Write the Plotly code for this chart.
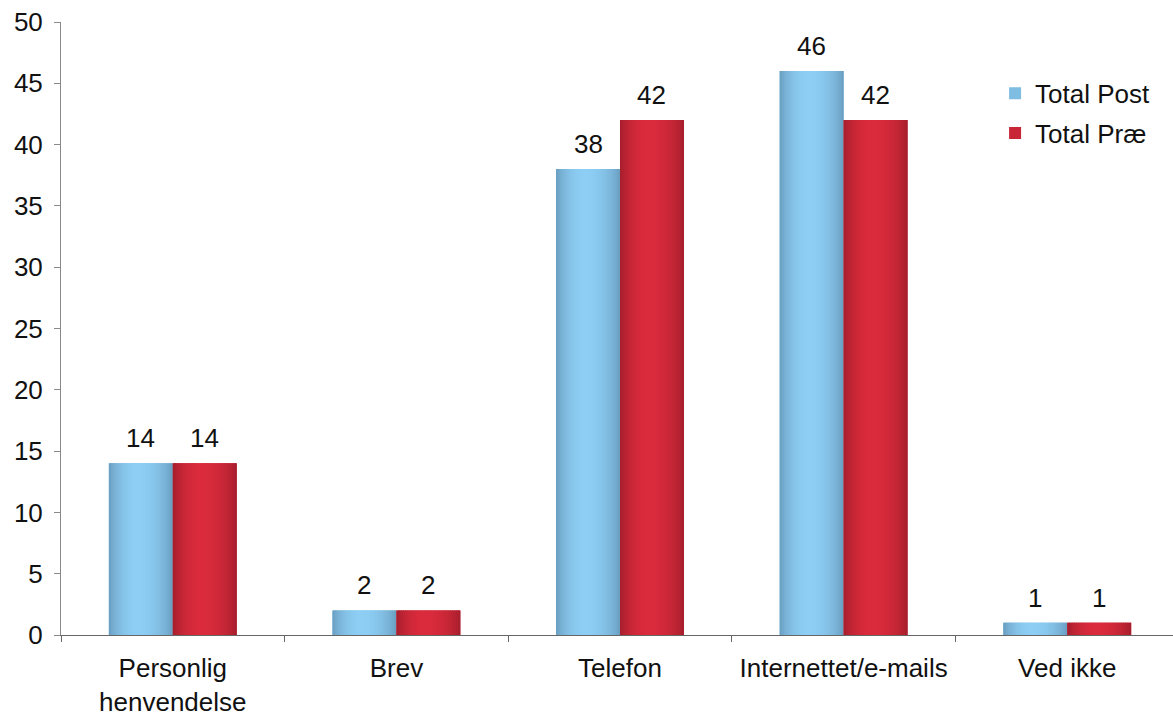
import math
import plotly.graph_objects as go

# Survey results: contact channel, post vs. pre
categories = ["Personlig henvendelse", "Brev", "Telefon", "Internettet/e-mails", "Ved ikke"]
tick_labels = ["Personlig<br>henvendelse", "Brev", "Telefon", "Internettet/e-mails", "Ved ikke"]
total_post = [14, 2, 38, 46, 1]
total_prae = [14, 2, 42, 42, 1]

FONT = "Liberation Sans, Arial, sans-serif"
FONT_SIZE = 26
BAR_W = 0.286          # width of one bar in category units
N_STRIPS = 30          # vertical strips used for the cylinder shading


def mix(c1, c2, f):
    return "rgb({},{},{})".format(*[round(a + (b - a) * f) for a, b in zip(c1, c2)])


def shade(t):
    # brightness profile across the bar: dark edges, light band a bit left of centre
    peak = 0.45
    u = t / peak if t < peak else (1 - t) / (1 - peak)
    return math.sin(u * math.pi / 2) ** 0.7


series = [
    dict(name="Total Post", values=total_post, offset=-BAR_W,
         edge=(102, 154, 188), light=(142, 206, 244), legend=(127, 189, 226)),
    dict(name="Total Præ", values=total_prae, offset=0.0,
         edge=(161, 29, 43), light=(218, 43, 60), legend=(200, 38, 55)),
]

fig = go.Figure()

for s in series:
    # base bar carrying the legend entry
    fig.add_trace(go.Bar(
        x=categories, y=s["values"], name=s["name"],
        offset=s["offset"], width=BAR_W,
        marker=dict(color=mix(s["legend"], s["legend"], 0), line=dict(width=0)),
        legendgroup=s["name"], hoverinfo="skip",
    ))
    # shaded strips on top
    w = BAR_W / N_STRIPS
    for k in range(N_STRIPS):
        t = (k + 0.5) / N_STRIPS
        start = s["offset"] + k * w
        width = min(w * 1.6, s["offset"] + BAR_W - start)
        fig.add_trace(go.Bar(
            x=categories, y=s["values"], offset=start, width=width,
            marker=dict(color=mix(s["edge"], s["light"], shade(t)), line=dict(width=0)),
            showlegend=False, hoverinfo="skip", legendgroup=s["name"],
        ))

# value labels above the bars
for s in series:
    for cat, v in zip(categories, s["values"]):
        fig.add_annotation(
            x=cat, y=v, text=str(v), showarrow=False,
            xshift=(s["offset"] + BAR_W / 2) * 223.6, yshift=25,
            yanchor="middle", font=dict(family=FONT, size=FONT_SIZE, color="#111111"),
        )

fig.update_layout(
    width=1173, height=718,
    margin=dict(l=61, r=0, t=22, b=83),
    barmode="overlay",
    plot_bgcolor="white", paper_bgcolor="white",
    font=dict(family=FONT, size=FONT_SIZE, color="#111111"),
    legend=dict(x=0.840, y=0.922, xanchor="left", yanchor="top",
                font=dict(family=FONT, size=FONT_SIZE, color="#111111"),
                tracegroupgap=3, bgcolor="rgba(0,0,0,0)"),
    showlegend=True,
)

fig.update_xaxes(
    type="category", categoryorder="array", categoryarray=categories,
    tickvals=categories, ticktext=tick_labels,
    range=[-0.5, 4.473], automargin=False,
    showline=True, linecolor="#666666", linewidth=1,
    ticks="outside", tickson="boundaries", ticklen=6, tickcolor="#666666",
    ticklabelstandoff=10,
    showgrid=False, zeroline=False,
)
fig.update_yaxes(
    range=[0, 50], dtick=5, tick0=0, automargin=False,
    showline=True, linecolor="#8a8a8a", linewidth=1,
    ticks="outside", ticklen=6, tickcolor="#8a8a8a",
    ticklabelstandoff=6,
    showgrid=False, zeroline=False,
)

fig.write_html("out.html")
